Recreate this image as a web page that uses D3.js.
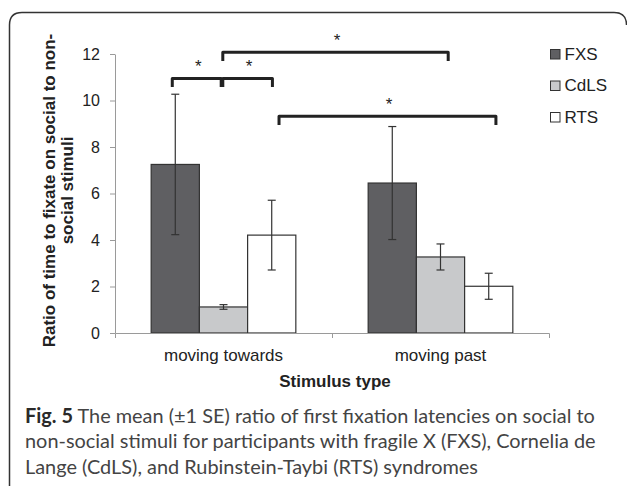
<!DOCTYPE html>
<html>
<head>
<meta charset="utf-8">
<script src="https://cdn.jsdelivr.net/npm/d3@7/dist/d3.min.js"></script>
<style>
  html, body { margin: 0; padding: 0; background: #fff; }
  svg { display: block; }
</style>
</head>
<body>
<svg id="chart" width="627" height="486"></svg>
<script>
// ---- data ----
const categories = ["moving towards", "moving past"];
const groups = ["FXS", "CdLS", "RTS"];
const fxsMean = [7.25, 6.45];
const fxsSE = [3.02, 2.43];
const cdlsMean = [1.12, 3.27];
const cdlsSE = [0.10, 0.56];
const rtsMean = [4.21, 2.01];
const rtsSE = [1.50, 0.56];
const yTicks = [0, 2, 4, 6, 8, 10, 12];
const compFrom = [["moving towards", "FXS"], ["moving towards", "CdLS"], ["moving towards", "CdLS"], ["moving towards", "RTS"]];
const compTo = [["moving towards", "CdLS"], ["moving towards", "RTS"], ["moving past", "CdLS"], ["moving past", "RTS"]];
const compLevel = [10.95, 10.95, 12.07, 9.32];
const compLabel = ["*", "*", "*", "*"];
const yTitleLines = ["Ratio of time to fixate on social to non-", "social stimuli"];
const xTitle = "Stimulus type";
const captionBold = "Fig. 5";
const captionLines = [
  " The mean (\u00b11 SE) ratio of first fixation latencies on social to",
  "non-social stimuli for participants with fragile X (FXS), Cornelia de",
  "Lange (CdLS), and Rubinstein-Taybi (RTS) syndromes"
];

const meanBy = { FXS: fxsMean, CdLS: cdlsMean, RTS: rtsMean };
const seBy = { FXS: fxsSE, CdLS: cdlsSE, RTS: rtsSE };
const colors = { FXS: "#5f5f62", CdLS: "#c8c9cb", RTS: "#ffffff" };

(function draw() {
// ---- layout ----
const svg = d3.select("#chart");
const axisFont = "'Liberation Sans', Arial, Helvetica, sans-serif";
const pLeft = 115, pRight = 549, pTop = 54, pBottom = 333;

// frame
svg.append("path")
  .attr("d", "M9.5,486 V25 Q9.5,12.5 22,12.5 H614 Q626.5,12.5 626.5,25")
  .attr("fill", "none").attr("stroke", "#333").attr("stroke-width", 1.5);

const x = d3.scaleBand().domain(categories).range([pLeft, pRight]).padding(0);
const xs = d3.scaleBand().domain(groups).range([0, x.bandwidth()]).paddingInner(0).paddingOuter(0.75);
const y = d3.scaleLinear().domain([0, 12]).range([pBottom, pTop]);

const g = svg.append("g");

// y axis
const yAxis = g.append("g").attr("transform", `translate(${pLeft},0)`)
  .call(d3.axisLeft(y).tickValues(yTicks).tickSize(5).tickSizeOuter(0).tickPadding(10));
yAxis.select(".domain").attr("stroke", "#9a9a9a");
yAxis.selectAll(".tick line").attr("stroke", "#9a9a9a");
yAxis.selectAll(".tick text").attr("font-family", axisFont).attr("font-size", 16).attr("fill", "#222");

// bars
const barData = [];
categories.forEach((c, i) => groups.forEach(s => barData.push({ c, s, v: meanBy[s][i], e: seBy[s][i] })));

g.selectAll("rect.bar").data(barData).enter().append("rect")
  .attr("class", "bar")
  .attr("x", d => x(d.c) + xs(d.s))
  .attr("y", d => y(d.v))
  .attr("width", xs.bandwidth())
  .attr("height", d => y(0) - y(d.v))
  .attr("fill", d => colors[d.s])
  .attr("stroke", "#333").attr("stroke-width", 1.2);

// error bars
const eb = g.selectAll("g.err").data(barData).enter().append("g").attr("class", "err")
  .attr("stroke", "#333").attr("stroke-width", 1.2);
const cx = d => x(d.c) + xs(d.s) + xs.bandwidth() / 2;
eb.append("line").attr("x1", cx).attr("x2", cx).attr("y1", d => y(d.v + d.e)).attr("y2", d => y(d.v - d.e));
eb.append("line").attr("x1", d => cx(d) - 4).attr("x2", d => cx(d) + 4).attr("y1", d => y(d.v + d.e)).attr("y2", d => y(d.v + d.e));
eb.append("line").attr("x1", d => cx(d) - 4).attr("x2", d => cx(d) + 4).attr("y1", d => y(d.v - d.e)).attr("y2", d => y(d.v - d.e));

// x axis
const xAxis = g.append("g").attr("transform", `translate(0,${pBottom})`)
  .call(d3.axisBottom(x).tickSize(0).tickSizeOuter(5).tickPadding(16));
xAxis.select(".domain").attr("stroke", "#9a9a9a");
xAxis.selectAll(".tick text").attr("font-family", axisFont).attr("font-size", 17).attr("fill", "#222");
xAxis.selectAll("line.bound").data(categories.slice(1)).enter().append("line")
  .attr("class", "bound")
  .attr("x1", d => x(d) + 0.5).attr("x2", d => x(d) + 0.5)
  .attr("y1", 0).attr("y2", 5).attr("stroke", "#9a9a9a");

// significance brackets
const nudge = [[-3, -2.3], [-0.7, 0.7], [-0.7, 7.7], [7.3, 7.2]];
const leg = 8.6;
compLevel.forEach((lv, i) => {
  const [c1, s1] = compFrom[i], [c2, s2] = compTo[i];
  const x1 = x(c1) + xs(s1) + xs.bandwidth() / 2 + nudge[i][0];
  const x2 = x(c2) + xs(s2) + xs.bandwidth() / 2 + nudge[i][1];
  const yl = y(lv);
  g.append("path")
    .attr("d", `M${x1},${yl + leg} V${yl} H${x2} V${yl + leg}`)
    .attr("fill", "none").attr("stroke", "#222").attr("stroke-width", 3)
    .attr("stroke-linejoin", "round");
  g.append("text")
    .attr("x", (x1 + x2) / 2 + 1.5).attr("y", yl - 6.5)
    .attr("text-anchor", "middle")
    .attr("font-family", axisFont).attr("font-size", 17).attr("fill", "#222")
    .text(compLabel[i]);
});

// y title
const yt = g.append("g").attr("transform", `translate(0,${(pTop + pBottom) / 2 - 3}) rotate(-90)`);
yTitleLines.forEach((t, i) => {
  yt.append("text").attr("x", 0).attr("y", 55 + i * 18)
    .attr("text-anchor", "middle")
    .attr("font-family", axisFont).attr("font-weight", "bold").attr("font-size", 17)
    .attr("fill", "#222").text(t);
});

// x title
g.append("text").attr("x", (pLeft + pRight) / 2 + 3).attr("y", 387)
  .attr("text-anchor", "middle")
  .attr("font-family", axisFont).attr("font-weight", "bold").attr("font-size", 17)
  .attr("fill", "#222").text(xTitle);

// legend
const lg = g.append("g").attr("transform", "translate(550.5,49.5)");
groups.forEach((s, i) => {
  const row = lg.append("g").attr("transform", `translate(0,${i * 31.5})`);
  row.append("rect").attr("width", 9.5).attr("height", 9.5)
    .attr("fill", colors[s]).attr("stroke", "#333").attr("stroke-width", 1);
  row.append("text").attr("x", 14).attr("y", 10)
    .attr("font-family", axisFont).attr("font-size", 17).attr("fill", "#222").text(s);
});

// caption (font size fitted so the first line spans the measured width)
const capFont = "Lato, 'Open Sans', 'Noto Sans', sans-serif";
const cap = svg.append("g").attr("font-family", capFont).attr("font-size", 18).attr("fill", "#444");
const capX = 25, capWidth = 570;
const l1 = cap.append("text").attr("x", capX).attr("y", 422.5);
l1.append("tspan").attr("font-weight", "bold").attr("fill", "#2a2a2a").text(captionBold);
l1.append("tspan").text(captionLines[0]);
cap.append("text").attr("x", capX).attr("y", 448).text(captionLines[1]);
cap.append("text").attr("x", capX).attr("y", 473.5).text(captionLines[2]);
const w = l1.node().getComputedTextLength();
if (w > 0) cap.attr("font-size", (18 * capWidth / w).toFixed(2));
})();
</script>
</body>
</html>
